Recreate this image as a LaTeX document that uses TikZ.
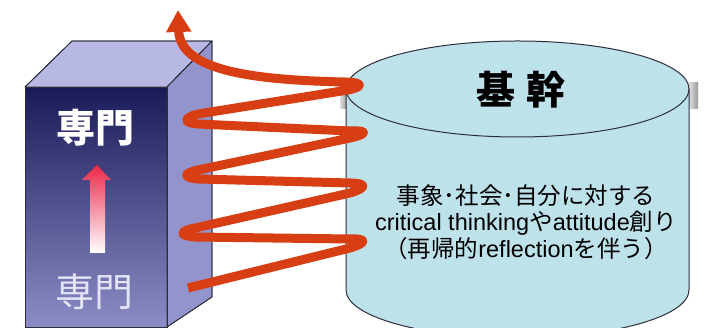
\documentclass[tikz,border=0pt]{standalone}
\usepackage{fontspec}
\newfontfamily\jpfont{Noto Sans CJK JP}
\newfontfamily\latfont{Liberation Sans}
\usepackage{xcolor}
\usepackage{tikz}
\usetikzlibrary{arrows.meta}

\definecolor{spiralred}{RGB}{216,62,20}
\definecolor{boxtop}{RGB}{184,184,228}
\definecolor{boxside}{RGB}{148,148,204}
\definecolor{boxnavy}{RGB}{26,26,88}
\definecolor{boxmid}{RGB}{96,96,162}
\definecolor{boxlav}{RGB}{140,140,198}
\definecolor{cylfill}{RGB}{190,226,234}
\definecolor{edgegray}{RGB}{45,45,60}
\definecolor{pinkred}{RGB}{236,40,72}

\begin{document}
\begin{tikzpicture}[x=1pt, y=1pt,
  face/.style={draw=edgegray, line width=0.8pt, line join=round},
  cylface/.style={draw=edgegray, line width=1pt, fill=cylfill},
  tab/.style={left color=gray!25, right color=gray!80, draw=none},
  spiral/.style={draw=spiralred, line width=9pt, line join=round, -{Triangle[width=24pt, length=22pt]}},
  bigtext/.style={font=\jpfont\bfseries\fontsize{39}{40}\selectfont},
  bodytext/.style={font=\jpfont\fontsize{23.5}{26.5}\selectfont, align=center}
]
  \useasboundingbox (0,0) rectangle (712,328);
  \clip (0,0) rectangle (712,328);

  % Box
  \shade[face, top color=boxnavy, middle color=boxmid, bottom color=boxlav]
    (25,1) rectangle (167,241);
  \fill[face, fill=boxtop] (25,241) -- (72,287) -- (212,287) -- (167,241) -- cycle;
  \fill[face, fill=boxside] (167,241) -- (212,287) -- (212,31) -- (167,1) -- cycle;
  \draw[face] (25,1) rectangle (167,241);
  \draw[face] (25,241) -- (72,287) -- (212,287) -- (167,241);
  \draw[face] (212,287) -- (212,31) -- (167,1);

  \node[bigtext, text=white] (senmonTop) at (95,200) {専門};
  \shade[top color=pinkred, bottom color=white]
    (90,75) -- (90,148) -- (82,148) -- (97,163) -- (111,148) -- (105,148) -- (105,75) -- cycle;
  \node[font=\jpfont\fontsize{39}{40}\selectfont, text={rgb,255:red,228;green,228;blue,246}]
    (senmonBottom) at (94,36) {専門};

  % Cylinder
  \fill[tab] (340,219) rectangle (347,241);
  \fill[tab] (689,219) rectangle (698,245);
  \fill[cylfill] (346,239) -- (346,38)
    arc[start angle=180, end angle=360, x radius=171.5, y radius=48] -- (689,239) -- cycle;
  \draw[edgegray, line width=1pt] (346,239) -- (346,38)
    arc[start angle=180, end angle=360, x radius=171.5, y radius=48] -- (689,239);
  \draw[cylface] (517.5,239) ellipse[x radius=171.5, y radius=48];

  \node[bigtext] (kikan) at (521,238) {基\hspace{0.3em}幹};
  \node[bodytext] (kikanBody) at (526,106)
    {事象･社会･自分に対する\\{\latfont critical thinking}や{\latfont attitude}創り\\（再帰的{\latfont reflection}を伴う）};

  % Spiral
  \draw[spiral] (188,40)
    -- (350,80) .. controls (367,85) and (367,90) .. (350,89)
    -- (195,91) .. controls (179,92) and (179,97) .. (195,100)
    -- (350,135) .. controls (367,140) and (367,145) .. (350,145)
    -- (198,149) .. controls (183,150) and (183,155) .. (198,158)
    -- (350,190) .. controls (368,194) and (368,198) .. (350,197)
    -- (198,204) .. controls (183,205) and (183,210) .. (198,214)
    -- (348,238) .. controls (364,241) and (363,246) .. (345,246)
    .. controls (250,248) and (180,258) .. (178,318);
\end{tikzpicture}
\end{document}
